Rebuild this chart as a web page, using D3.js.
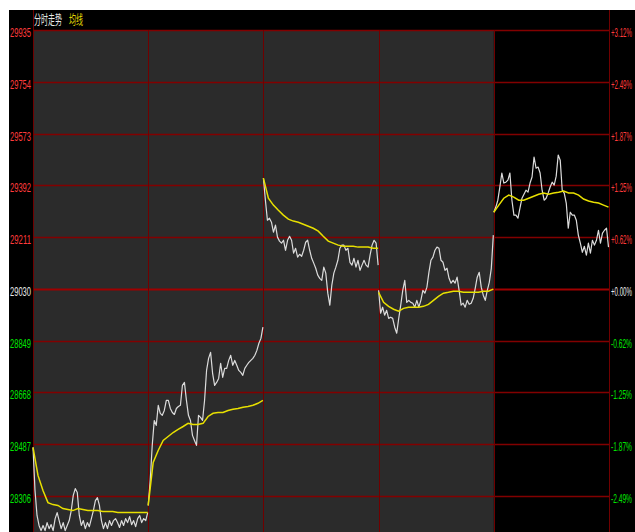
<!DOCTYPE html>
<html><head><meta charset="utf-8">
<script src="https://cdn.jsdelivr.net/npm/d3@7"></script>
<style>html,body{margin:0;padding:0;background:#fff;overflow:hidden}</style>
</head><body>
<script>
const leftTicks = [29935, 29754, 29573, 29392, 29211, 29030, 28849, 28668, 28487, 28306];
const rightTicks = ["+3.12%", "+2.49%", "+1.87%", "+1.25%", "+0.62%", "+0.00%", "-0.62%", "-1.25%", "-1.87%", "-2.49%"];
const baseValue = 29030;
const legendLabels = ["分时走势", "均线"];
const dayCount = 5;
const minutesPerDay = 240;

const price1 = [28476,28325,28238,28203,28185,28203,28185,28213,28192,28206,28185,28227,28248,28220,28192,28213,28185,28203,28220,28255,28308,28332,28318,28238,28203,28220,28192,28213,28199,28227,28255,28290,28300,28273,28220,28192,28213,28192,28220,28203,28220,28227,28213,28196,28220,28203,28227,28213,28234,28206,28220,28199,28227,28238,28213,28227,28220,28248];
const price2 = [28273,28360,28483,28570,28553,28623,28595,28588,28605,28640,28640,28612,28598,28591,28612,28619,28623,28693,28703,28640,28588,28570,28518,28500,28483,28588,28581,28570,28640,28745,28787,28808,28735,28693,28703,28717,28770,28721,28752,28752,28780,28798,28763,28780,28763,28745,28738,28728,28752,28763,28773,28780,28787,28798,28815,28840,28857,28896];
const price3 = [29417,29340,29270,29277,29263,29228,29253,29211,29197,29190,29200,29165,29200,29214,29200,29155,29172,29141,29151,29144,29165,29193,29200,29165,29137,29120,29102,29078,29067,29060,29106,29085,29015,28973,29043,29085,29106,29130,29172,29183,29183,29165,29172,29123,29113,29137,29106,29130,29095,29113,29130,29113,29106,29148,29183,29200,29190,29113];
const price4 = [29025,28945,28966,28938,28955,28927,28931,28927,28896,28875,28927,28973,29025,29060,28983,28990,28983,28980,28966,28990,28966,28990,29025,29015,29036,29088,29130,29141,29165,29176,29172,29130,29123,29095,29102,29067,29050,29060,29050,29071,29025,28973,28980,28966,28990,28976,28980,28997,29032,29071,29088,29036,29008,28990,29025,29053,29102,29218];
const price5 = [29298,29316,29340,29386,29435,29400,29403,29410,29435,29340,29288,29288,29277,29312,29347,29361,29375,29368,29400,29421,29491,29452,29456,29435,29375,29340,29347,29365,29386,29403,29393,29424,29498,29480,29375,29365,29330,29242,29298,29288,29288,29270,29218,29190,29158,29179,29148,29190,29155,29200,29183,29200,29235,29190,29225,29235,29242,29176];

const avg1 = [28476,28378,28325,28283,28276,28273,28262,28259,28255,28262,28259,28255,28255,28255,28252,28252,28252,28248,28248,28248,28248,28248,28248,28248];
const avg2 = [28273,28423,28465,28500,28514,28528,28539,28549,28560,28556,28556,28560,28584,28595,28598,28598,28605,28609,28612,28616,28619,28623,28630,28640];
const avg3 = [29417,29347,29323,29305,29288,29274,29267,29263,29256,29249,29242,29232,29214,29197,29190,29183,29179,29179,29179,29176,29176,29176,29172,29172];
const avg4 = [29018,28983,28969,28959,28952,28962,28966,28966,28966,28969,28976,28990,29004,29015,29018,29022,29022,29018,29018,29018,29018,29022,29022,29029];
const avg5 = [29298,29323,29347,29358,29351,29340,29340,29347,29354,29361,29365,29361,29365,29368,29372,29365,29365,29358,29344,29337,29333,29330,29323,29316];

const prices = [price1, price2, price3, price4, price5];
const avgs = [avg1, avg2, avg3, avg4, avg5];

const W = 635, H = 532;
const plotL = 33, plotR = 609, plotT = 30;
const svg = d3.select("body").append("svg").attr("width", W).attr("height", H)
  .style("display", "block");

svg.append("rect").attr("x", 0).attr("y", 0).attr("width", W).attr("height", H).attr("fill", "#fff");
svg.append("rect").attr("x", 9).attr("y", 10).attr("width", W - 9).attr("height", H - 10).attr("fill", "#000");

const x = d3.scaleLinear().domain([0, dayCount * minutesPerDay]).range([plotL, plotR]);
const y = d3.scaleLinear().domain([28306, 29935]).range([496, 30]);

svg.append("rect").attr("x", x(0)).attr("y", plotT)
  .attr("width", x(4 * minutesPerDay) - x(0)).attr("height", H - plotT).attr("fill", "#2b2b2b");

const grid = svg.append("g");
leftTicks.forEach(v => {
  const yy = Math.round(y(v)) + 0.5;
  grid.append("line").attr("x1", plotL).attr("x2", plotR).attr("y1", yy).attr("y2", yy)
    .attr("stroke", v === baseValue ? "#a00000" : "#820000")
    .attr("stroke-width", v === baseValue ? 2 : 1.4);
});
d3.range(0, dayCount + 1).forEach(d => {
  const xx = Math.round(x(d * minutesPerDay)) + 0.5;
  const edge = d === 0 || d === dayCount;
  grid.append("line").attr("x1", xx).attr("x2", xx).attr("y1", edge ? 10 : plotT).attr("y2", H)
    .attr("stroke", "#700000").attr("stroke-width", 1);
});

const lineGen = (d, n) => d3.line()
  .x((v, i) => x(d * minutesPerDay + i * (minutesPerDay - 1) / (n - 1)))
  .y(v => y(v));

const lines = svg.append("g");
prices.forEach((arr, d) => {
  lines.append("path").attr("d", lineGen(d, arr.length)(arr))
    .attr("fill", "none").attr("stroke", "#dcdcdc").attr("stroke-width", 1.2)
    .attr("stroke-linejoin", "round");
});
avgs.forEach((arr, d) => {
  lines.append("path").attr("d", lineGen(d, arr.length)(arr))
    .attr("fill", "none").attr("stroke", "#e8e000").attr("stroke-width", 1.5);
});

// condensed text helper: scales text horizontally to a target width
function condensed(xPos, yPos, str, color, family, size, targetW, anchorEnd) {
  const t = svg.append("text").text(str).attr("fill", color)
    .attr("font-family", family).attr("font-size", size);
  const len = t.node().getComputedTextLength() || targetW;
  const s = targetW / len;
  const x0 = anchorEnd ? xPos - targetW : xPos;
  t.attr("transform", `translate(${x0},${yPos}) scale(${s},1)`);
  return t;
}

condensed(34, 24, legendLabels[0], "#e8e8e8", "Noto Sans CJK SC", 13, 28, false);
condensed(69, 24, legendLabels[1], "#e0d800", "Noto Sans CJK SC", 13, 14, false);

function colorFor(i) {
  return i < 5 ? "#ff3b3b" : (i === 5 ? "#e8e8e8" : "#00e600");
}
const numFont = "Liberation Sans Narrow, Liberation Sans, sans-serif";
leftTicks.forEach((v, i) => {
  condensed(31, Math.round(y(v)) + 7, String(v), colorFor(i), numFont, 13, 21, true);
});
rightTicks.forEach((t, i) => {
  condensed(611, Math.round(y(leftTicks[i])) + 7, t, colorFor(i), numFont, 13, 21, false);
});
</script>
</body></html>
